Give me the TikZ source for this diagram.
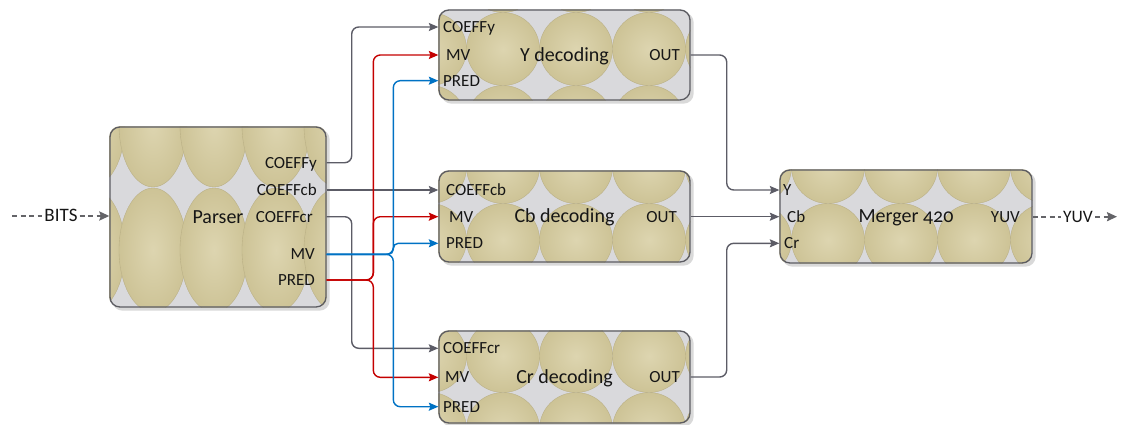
\documentclass[tikz,border=0pt]{standalone}
\usepackage{fontspec}
\setmainfont{Carlito}[Numbers=OldStyle]
\usetikzlibrary{arrows.meta}

\definecolor{tanfill}{RGB}{205,195,150}
\definecolor{tanlite}{RGB}{221,213,176}
\definecolor{tanedge}{RGB}{184,174,132}
\definecolor{cellbg}{RGB}{217,217,220}
\definecolor{frame}{RGB}{92,92,98}
\definecolor{wiregray}{RGB}{92,92,102}
\definecolor{wirered}{RGB}{196,0,0}
\definecolor{wireblue}{RGB}{0,114,196}
\definecolor{txt}{RGB}{22,22,22}
\definecolor{dashgray}{RGB}{100,100,104}

\pgfdeclarelayer{shadowlayer}
\pgfdeclarelayer{tilelayer}
\pgfsetlayers{shadowlayer,tilelayer,main}

% shadow + clipped lattice of shaded ellipses behind a box node
% #1 node name, #2 column centres, #3 row centres, #4 x radius, #5 y radius
\newcommand\tiledbox[5]{%
  \begin{pgfonlayer}{shadowlayer}
    \fill[gray!30, rounded corners=10pt]
      ([xshift=3pt,yshift=-3pt]#1.north west) rectangle ([xshift=3pt,yshift=-3pt]#1.south east);
  \end{pgfonlayer}
  \begin{pgfonlayer}{tilelayer}
    \begin{scope}
      \clip[rounded corners=10pt] (#1.north west) rectangle (#1.south east);
      \fill[cellbg] (#1.north west) rectangle (#1.south east);
      \foreach \cx in {#2}{\foreach \cy in {#3}{
        \shade[inner color=tanlite, outer color=tanfill]
          (\cx,\cy) ellipse [x radius=#4pt, y radius=#5pt];
        \draw[tanedge, line width=0.35pt]
          (\cx,\cy) ellipse [x radius=#4pt, y radius=#5pt];
      }}
    \end{scope}
  \end{pgfonlayer}}

\tikzset{
  box/.style={draw=frame, line width=1.3pt, rounded corners=10pt, inner sep=0pt,
    text height=12.9pt, text depth=0pt, text=txt,
    font=\fontsize{20}{22}\selectfont},
  port/.style={inner sep=0pt, text height=11pt, text depth=0pt, text=txt,
    font=\fontsize{17}{19}\selectfont},
  iolabel/.style={inner sep=0pt, text height=11.8pt, text depth=0pt, text=txt,
    font=\fontsize{18}{20}\selectfont},
  wire/.style={line width=1.4pt, rounded corners=7pt,
    -{Stealth[length=9.5pt,width=8pt,inset=1.5pt]}},
  dashio/.style={dashgray, line width=2.4pt, dash pattern=on 5pt off 3.5pt},
  dashtip/.style={dashio, -{Stealth[length=10pt,width=9pt,inset=1.5pt]}},
}

\begin{document}
\begin{tikzpicture}[x=1pt, y=-1pt]
\useasboundingbox (0,0) rectangle (1123,425);

% ---- blocks ----
\node[box, minimum width=216pt, minimum height=180pt] (parser) at (218,217) {Parser};
\node[box, minimum width=251pt, minimum height=90pt] (ydec) at (564.5,55) {Y decoding};
\node[box, minimum width=251pt, minimum height=91pt] (cbdec) at (564.5,216.5) {Cb decoding};
\node[box, minimum width=251pt, minimum height=92pt] (crdec) at (564.5,377) {Cr decoding};
\node[box, minimum width=252pt, minimum height=93pt] (merger) at (906,216.5) {Merger 420};

\tiledbox{parser}{91,153,214,276,338}{125,250}{34}{62}
\tiledbox{ydec}{430,503,576,649,722}{-24,49,122}{36.5}{36.5}
\tiledbox{cbdec}{430,503,576,649,722}{94,167,240}{36.5}{36.5}
\tiledbox{crdec}{430,503,576,649,722}{356,429}{36.5}{36.5}
\tiledbox{merger}{755,828,901,974,1047}{94,167,240}{36.5}{36.5}

% ---- port labels ----
\node[port, anchor=east] (p-cy)   at (317,162.7) {COEFFy};
\node[port, anchor=east] (p-cb)   at (317,190)   {COEFFcb};
\node[port, anchor=east] (p-cr)   at (313,216.7) {COEFFcr};
\node[port, anchor=east] (p-mv)   at (315,254.3) {MV};
\node[port, anchor=east] (p-pred) at (315,280)   {PRED};

\node[port, anchor=west] (y-cy)   at (443,27)    {COEFFy};
\node[port, anchor=west] (y-mv)   at (446,55)    {MV};
\node[port, anchor=west] (y-pred) at (443,80.7)  {PRED};
\node[port, anchor=east] (y-out)  at (680,55)    {OUT};

\node[port, anchor=west] (c-cb)   at (446,190)   {COEFFcb};
\node[port, anchor=west] (c-mv)   at (449,216.7) {MV};
\node[port, anchor=west] (c-pred) at (446,243.3) {PRED};
\node[port, anchor=east] (c-out)  at (677,216.7) {OUT};

\node[port, anchor=west] (r-cr)   at (443,348.3) {COEFFcr};
\node[port, anchor=west] (r-mv)   at (445,377.3) {MV};
\node[port, anchor=west] (r-pred) at (443,406.7) {PRED};
\node[port, anchor=east] (r-out)  at (680,377)   {OUT};

\node[port, anchor=west] (m-y)    at (783,190)   {Y};
\node[port, anchor=west] (m-cb)   at (787,216.7) {Cb};
\node[port, anchor=west] (m-cr)   at (784,243.3) {Cr};
\node[port, anchor=east] (m-yuv)  at (1020,216.7) {YUV};

% ---- routing columns ----
\coordinate (gbus) at (351.7,0);
\coordinate (rbus) at (373.3,0);
\coordinate (bbus) at (393.3,0);
\coordinate (obus) at (726.7,0);

% coefficient wires
\draw[wire, wiregray] (parser.east |- p-cy) -- (gbus |- p-cy) -- (gbus |- y-cy) -- (ydec.west |- y-cy);
\draw[wire, wiregray] (parser.east |- p-cb) -- (cbdec.west |- c-cb);
\draw[wire, wiregray] (parser.east |- p-cr) -- (gbus |- p-cr) -- (gbus |- r-cr) -- (crdec.west |- r-cr);

% prediction wires (red)
\draw[wire, wirered] (parser.east |- p-pred) -- (rbus |- p-pred) -- (rbus |- y-mv) -- (ydec.west |- y-mv);
\draw[wire, wirered] (parser.east |- p-pred) -- (rbus |- p-pred) -- (rbus |- c-mv) -- (cbdec.west |- c-mv);
\draw[wire, wirered] (parser.east |- p-pred) -- (rbus |- p-pred) -- (rbus |- r-mv) -- (crdec.west |- r-mv);

% motion vector wires (blue)
\draw[wire, wireblue] (parser.east |- p-mv) -- (bbus |- p-mv) -- (bbus |- y-pred) -- (ydec.west |- y-pred);
\draw[wire, wireblue, rounded corners=5pt] (parser.east |- p-mv) -- (bbus |- p-mv) -- (bbus |- c-pred) -- (cbdec.west |- c-pred);
\draw[wire, wireblue] (parser.east |- p-mv) -- (bbus |- p-mv) -- (bbus |- r-pred) -- (crdec.west |- r-pred);

% decoded planes into the merger
\draw[wire, wiregray] (ydec.east |- y-out) -- (obus |- y-out) -- (obus |- m-y) -- (merger.west |- m-y);
\draw[wire, wiregray] (cbdec.east |- c-out) -- (merger.west |- m-cb);
\draw[wire, wiregray] (crdec.east |- r-out) -- (obus |- r-out) -- (obus |- m-cr) -- (merger.west |- m-cr);

% ---- stream input / output ----
\node[iolabel, font=\fontsize{19}{21}\selectfont] (bits) at (61,216) {BITS};
\coordinate (bits-in) at (12,216);
\draw[dashio] (bits-in) -- ([xshift=-2pt]bits.west);
\draw[dashtip] ([xshift=2pt]bits.east) -- (parser.west |- bits);

\node[iolabel, font=\fontsize{17.5}{20}\selectfont] (yuv) at (1078,216.7) {YUV};
\coordinate (yuv-out) at (1117,216.7);
\draw[dashio] (merger.east |- yuv) -- ([xshift=-2pt]yuv.west);
\draw[dashtip] ([xshift=2pt]yuv.east) -- (yuv-out);
\end{tikzpicture}
\end{document}
